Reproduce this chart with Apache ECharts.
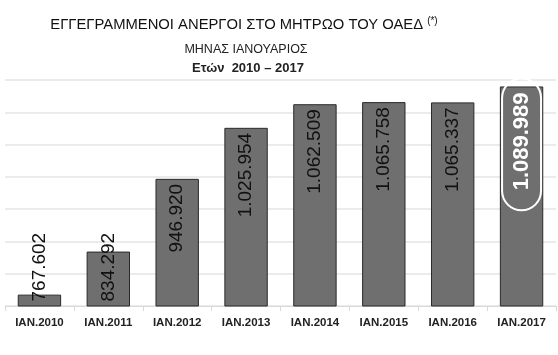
<!DOCTYPE html>
<html><head><meta charset="utf-8">
<script src="https://cdn.jsdelivr.net/npm/echarts@6/dist/echarts.min.js"></script>
<style>html,body{margin:0;padding:0;background:#fff}#c{width:558px;height:355px}</style>
</head><body><div id="c"></div>
<script>
var categories = ['IAN.2010','IAN.2011','IAN.2012','IAN.2013','IAN.2014','IAN.2015','IAN.2016','IAN.2017'];
var values = [767602, 834292, 946920, 1025954, 1062509, 1065758, 1065337, 1089989];
var valueLabels = ['767.602','834.292','946.920','1.025.954','1.062.509','1.065.758','1.065.337','1.089.989'];
var yMin = 750000, yMax = 1100000, yStep = 50000;

var data = values.map(function(v, i){
  var item = {value: v};
  if (i < 2) {
    item.label = {position: 'insideBottom', align: 'left', distance: 5};
  } else if (i === categories.length - 1) {
    item.label = {position: 'insideTop', align: 'right', distance: -8,
      color: '#fff', fontWeight: 'bold', fontSize: 22,
      borderColor: '#fff', borderWidth: 2, borderRadius: 40, padding: [9, 14, 8, 20]};
  } else {
    item.label = {position: 'insideTop', align: 'right', distance: 5};
  }
  return item;
});

var chart = echarts.init(document.getElementById('c'));
chart.setOption({
  backgroundColor: '#fff',
  animation: false,
  title: [
    {text: 'ΕΓΓΕΓΡΑΜΜΕΝΟΙ ΑΝΕΡΓΟΙ ΣΤΟ ΜΗΤΡΩΟ ΤΟΥ ΟΑΕΔ {s|(*)}', left: 239, top: 11, textAlign: 'center',
     textStyle: {fontFamily: 'Liberation Sans', fontSize: 14.8, fontWeight: 'normal', color: '#111',
       rich: {s: {fontSize: 10, verticalAlign: 'top', padding: [0,0,8,0], color: '#111'}}}},
    {text: 'ΜΗΝΑΣ ΙΑΝΟΥΑΡΙΟΣ', left: 241, top: 38, textAlign: 'center',
     textStyle: {fontFamily: 'Liberation Sans', fontSize: 12.5, fontWeight: 'normal', color: '#222'}},
    {text: 'Ετών  2010 – 2017', left: 243, top: 57, textAlign: 'center',
     textStyle: {fontFamily: 'Liberation Sans', fontSize: 13, fontWeight: 'bold', color: '#222'}}
  ],
  grid: {left: 5, right: 2, top: 80, bottom: 49},
  xAxis: {
    type: 'category', data: categories,
    axisLine: {lineStyle: {color: '#d9d9d9'}},
    axisTick: {show: true, length: 5, lineStyle: {color: '#d9d9d9'}},
    axisLabel: {color: '#222', fontFamily: 'Liberation Sans', fontSize: 11.5, fontWeight: 'bold', margin: 11}
  },
  yAxis: {
    type: 'value', min: yMin, max: yMax, interval: yStep,
    axisLabel: {show: false}, axisLine: {show: false}, axisTick: {show: false},
    splitLine: {lineStyle: {color: '#e4e4e4', width: 1.5}}
  },
  series: [{
    type: 'bar', data: data, barCategoryGap: '37%',
    itemStyle: {color: '#6f6f6f', borderColor: '#2a2a2a', borderWidth: 1},
    label: {show: true, rotate: 90, verticalAlign: 'middle',
      fontFamily: 'Liberation Sans', fontSize: 19, color: '#111',
      formatter: function(p){ return valueLabels[p.dataIndex]; }}
  }]
});
</script></body></html>
